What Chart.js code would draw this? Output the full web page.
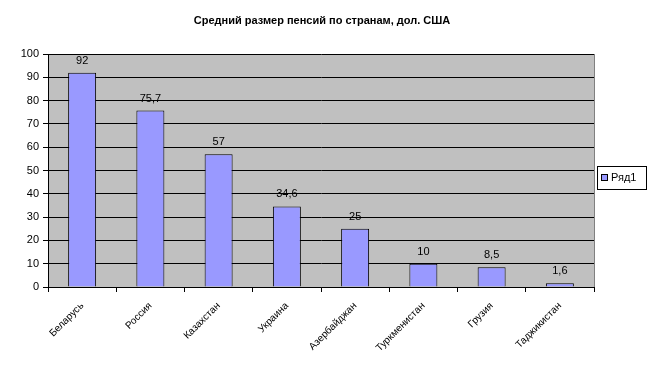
<!DOCTYPE html>
<html><head><meta charset="utf-8">
<script src="https://cdn.jsdelivr.net/npm/chart.js@4"></script>
<style>html,body{margin:0;padding:0;background:#fff}#c{display:block}</style>
</head><body>
<canvas id="c" width="648" height="381"></canvas>
<script>
const categories = ['Беларусь','Россия','Казахстан','Украина','Азербайджан','Туркменистан','Грузия','Таджикистан'];
const values = [92, 75.7, 57, 34.6, 25, 10, 8.5, 1.6];
const valueLabels = ['92','75,7','57','34,6','25','10','8,5','1,6'];
const seriesName = 'Ряд1';
const titleText = 'Средний размер пенсий по странам, дол. США';
const FONT = '"Liberation Sans", Arial, sans-serif';

const deco = {
  id: 'deco',
  beforeDraw(chart) {
    const {ctx, chartArea: a} = chart;
    ctx.save();
    ctx.fillStyle = '#C0C0C0';
    ctx.fillRect(a.left, a.top, a.right - a.left, a.bottom - a.top);
    ctx.restore();
  },
  afterDraw(chart) {
    const {ctx, chartArea: a} = chart;
    ctx.save();
    ctx.strokeStyle = '#808080';
    ctx.lineWidth = 1;
    ctx.beginPath();
    ctx.moveTo(a.right + 0.5, a.top);
    ctx.lineTo(a.right + 0.5, a.bottom);
    ctx.stroke();
    ctx.fillStyle = '#000';
    ctx.font = 'bold 11px ' + FONT;
    ctx.textAlign = 'center';
    ctx.textBaseline = 'middle';
    ctx.fillText(titleText, 322, 21);
    ctx.font = '11px ' + FONT;
    ctx.textBaseline = 'alphabetic';
    const meta = chart.getDatasetMeta(0);
    meta.data.forEach((bar, i) => {
      ctx.fillText(valueLabels[i], bar.x, bar.y - 9);
    });
    ctx.fillStyle = '#fff';
    ctx.fillRect(597, 166, 50, 24);
    ctx.strokeStyle = '#000';
    ctx.strokeRect(597.5, 166.5, 49, 23);
    ctx.fillStyle = '#9999FF';
    ctx.fillRect(601, 174, 7, 7);
    ctx.strokeRect(601.5, 174.5, 6, 6);
    ctx.fillStyle = '#000';
    ctx.textAlign = 'left';
    ctx.textBaseline = 'middle';
    ctx.font = '11px ' + FONT;
    ctx.fillText(seriesName, 611, 178);
    ctx.restore();
  }
};

new Chart(document.getElementById('c'), {
  type: 'bar',
  data: {
    labels: categories,
    datasets: [{
      label: seriesName,
      data: values,
      backgroundColor: '#9999FF',
      borderColor: '#000',
      borderWidth: 1,
      barPercentage: 0.41,
      categoryPercentage: 1
    }]
  },
  options: {
    responsive: false,
    animation: false,
    layout: { padding: { top: 54, right: 54, left: 0, bottom: 0 } },
    plugins: { legend: { display: false }, title: { display: false }, tooltip: { enabled: false } },
    scales: {
      x: {
        offset: true,
        grid: { offset: true, drawOnChartArea: false, drawTicks: true, tickLength: 5, color: '#000' },
        border: { display: true, color: '#000' },
        ticks: { color: '#000', font: { family: FONT, size: 10 }, minRotation: 45, maxRotation: 45, padding: 8, autoSkip: false },
        afterFit(s) { s.height = 94; }
      },
      y: {
        min: 0, max: 100,
        ticks: { stepSize: 10, color: '#000', font: { family: FONT, size: 11 }, padding: 4 },
        grid: { color: '#000', tickLength: 5, drawTicks: true },
        border: { display: true, color: '#000' },
        afterFit(s) { s.width = 48; }
      }
    }
  },
  plugins: [deco]
});
</script>
</body></html>
